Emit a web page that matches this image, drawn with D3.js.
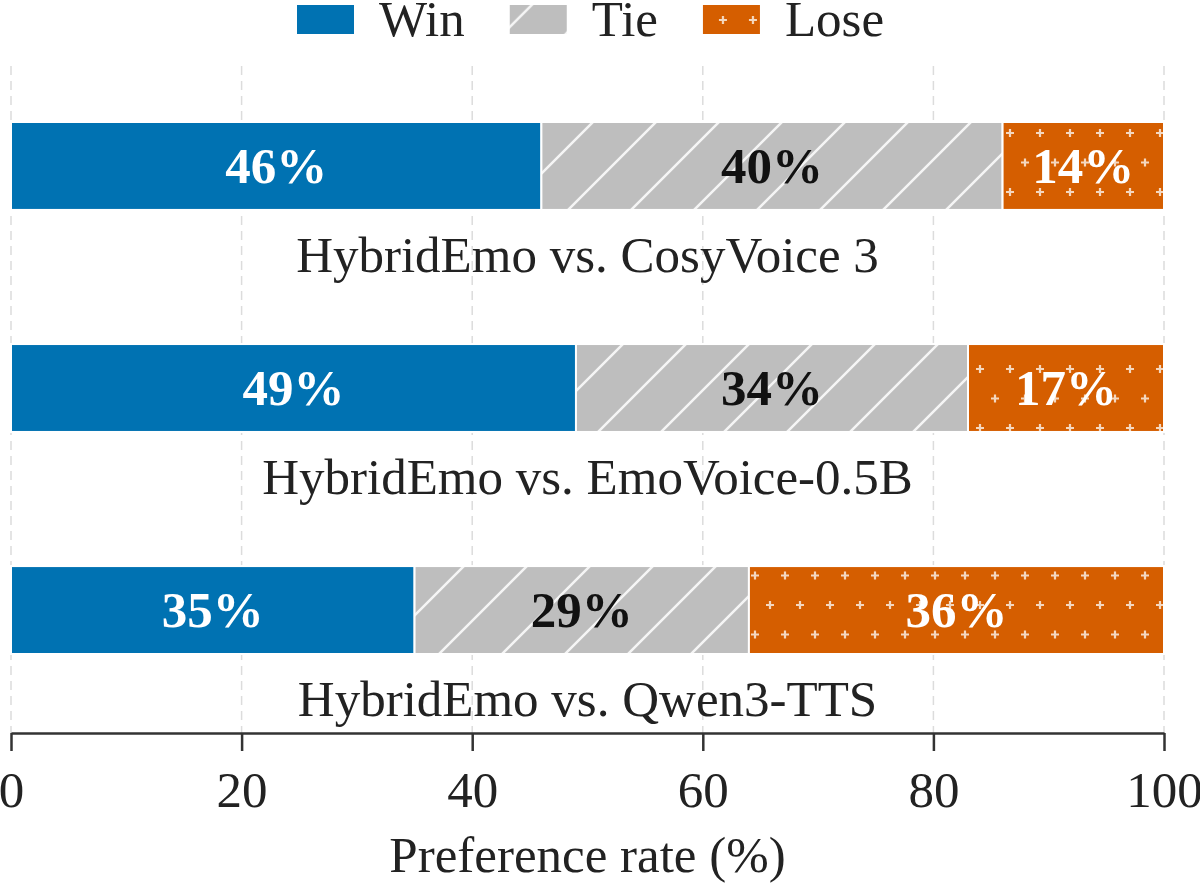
<!DOCTYPE html>
<html>
<head>
<meta charset="utf-8">
<script src="https://cdn.jsdelivr.net/npm/d3@7"></script>
<style>
  html, body { margin: 0; padding: 0; background: #fff; }
  svg { display: block; font-family: "Liberation Serif", "Times New Roman", serif; }
</style>
</head>
<body>
<div id="chart"></div>
<script>
// data
var categories = ["HybridEmo vs. CosyVoice 3", "HybridEmo vs. EmoVoice-0.5B", "HybridEmo vs. Qwen3-TTS"];
var winValues = [46, 49, 35];
var tieValues = [40, 34, 29];
var loseValues = [14, 17, 36];
var seriesNames = ["Win", "Tie", "Lose"];
var xTicks = [0, 20, 40, 60, 80, 100];

var W = 1200, H = 886;
var fontSize = 51;
var colors = { Win: "#0072B2", Tie: "#BEBEBE", Lose: "#D55E00" };
var fills = { Win: "#0072B2", Tie: "url(#hatchTie)", Lose: "url(#hatchLose)" };
var labelColor = { Win: "#fff", Tie: "#111", Lose: "#fff" };

// table for the stack layout
var table = categories.map(function (c, i) {
  return { cat: c, Win: winValues[i], Tie: tieValues[i], Lose: loseValues[i] };
});
var stacked = d3.stack().keys(seriesNames)(table);

var svg = d3.select("#chart").append("svg")
  .attr("width", W)
  .attr("height", H);

// patterns
var defs = svg.append("defs");
var pTie = defs.append("pattern")
  .attr("id", "hatchTie")
  .attr("patternUnits", "userSpaceOnUse")
  .attr("width", 63).attr("height", 63);
pTie.append("rect").attr("width", 63).attr("height", 63).attr("fill", colors.Tie);
pTie.append("path")
  .attr("d", "M-2,24 L24,-2 M-2,87 L87,-2")
  .attr("stroke", "#fff").attr("stroke-width", 2.5).attr("opacity", 0.85);

var pLose = defs.append("pattern")
  .attr("id", "hatchLose")
  .attr("patternUnits", "userSpaceOnUse")
  .attr("width", 30).attr("height", 59);
pLose.append("rect").attr("width", 30).attr("height", 59).attr("fill", colors.Lose);
[[20, 15], [5, 44.5]].forEach(function (p) {
  pLose.append("path")
    .attr("d", "M" + (p[0] - 4) + "," + p[1] + "h8M" + p[0] + "," + (p[1] - 4) + "v8")
    .attr("stroke", "#fff").attr("stroke-width", 2.2).attr("opacity", 0.75);
});

// scales
var x = d3.scaleLinear().domain([0, 100]).range([11, 1164]);
var y = d3.scaleBand().domain(categories).range([122, 654]).paddingInner(0.604).paddingOuter(0);
var axisY = 733;

// grid
svg.append("g")
  .selectAll("line")
  .data(xTicks)
  .join("line")
  .attr("x1", function (d) { return x(d); })
  .attr("x2", function (d) { return x(d); })
  .attr("y1", 66)
  .attr("y2", axisY)
  .attr("stroke", "#dcdcdc")
  .attr("stroke-width", 1.5)
  .attr("stroke-dasharray", "9,6");

// bars
var groups = svg.append("g")
  .selectAll("g")
  .data(stacked)
  .join("g");

groups.selectAll("rect")
  .data(function (s) { return s.map(function (d) { return { key: s.key, d: d }; }); })
  .join("rect")
  .attr("x", function (o) { return x(o.d[0]); })
  .attr("y", function (o) { return y(o.d.data.cat); })
  .attr("width", function (o) { return x(o.d[1]) - x(o.d[0]); })
  .attr("height", y.bandwidth())
  .attr("fill", function (o) { return fills[o.key]; })
  .attr("stroke", "#fff")
  .attr("stroke-width", 2);

// value labels
groups.selectAll("text")
  .data(function (s) { return s.map(function (d) { return { key: s.key, d: d }; }); })
  .join("text")
  .attr("x", function (o) { return (x(o.d[0]) + x(o.d[1])) / 2; })
  .attr("y", function (o) { return y(o.d.data.cat) + y.bandwidth() / 2; })
  .attr("dy", "0.33em")
  .attr("text-anchor", "middle")
  .attr("font-size", fontSize)
  .attr("font-weight", "bold")
  .attr("fill", function (o) { return labelColor[o.key]; })
  .text(function (o) { return (o.d[1] - o.d[0]) + "%"; });

// category labels under each bar
svg.append("g")
  .selectAll("text")
  .data(categories)
  .join("text")
  .attr("x", (x(0) + x(100)) / 2)
  .attr("y", function (d) { return y(d) + y.bandwidth() + 62; })
  .attr("text-anchor", "middle")
  .attr("font-size", fontSize)
  .attr("fill", "#222")
  .text(function (d) { return d; });

// x axis
var xAxis = svg.append("g")
  .attr("transform", "translate(0," + axisY + ")")
  .call(d3.axisBottom(x).tickValues(xTicks).tickSize(18).tickSizeOuter(0).tickPadding(20));
xAxis.select(".domain").attr("stroke", "#333").attr("stroke-width", 2.5);
xAxis.selectAll(".tick line").attr("stroke", "#333").attr("stroke-width", 2.5);
xAxis.selectAll(".tick text")
  .attr("font-size", fontSize)
  .attr("font-family", "Liberation Serif, Times New Roman, serif")
  .attr("fill", "#222");

svg.append("text")
  .attr("x", (x(0) + x(100)) / 2)
  .attr("y", 872)
  .attr("text-anchor", "middle")
  .attr("font-size", fontSize)
  .attr("fill", "#222")
  .text("Preference rate (%)");

// legend
var legend = svg.append("g").attr("transform", "translate(297,5)");
var lx = 0;
seriesNames.forEach(function (k) {
  var item = legend.append("g").attr("transform", "translate(" + lx + ",0)");
  item.append("rect")
    .attr("width", 57).attr("height", 29)
    .attr("fill", fills[k]);
  var t = item.append("text")
    .attr("x", 57 + 25)
    .attr("y", 31)
    .attr("font-size", fontSize)
    .attr("fill", "#222")
    .text(k);
  lx += 57 + 25 + t.node().getComputedTextLength() + 45;
});
</script>
</body>
</html>
